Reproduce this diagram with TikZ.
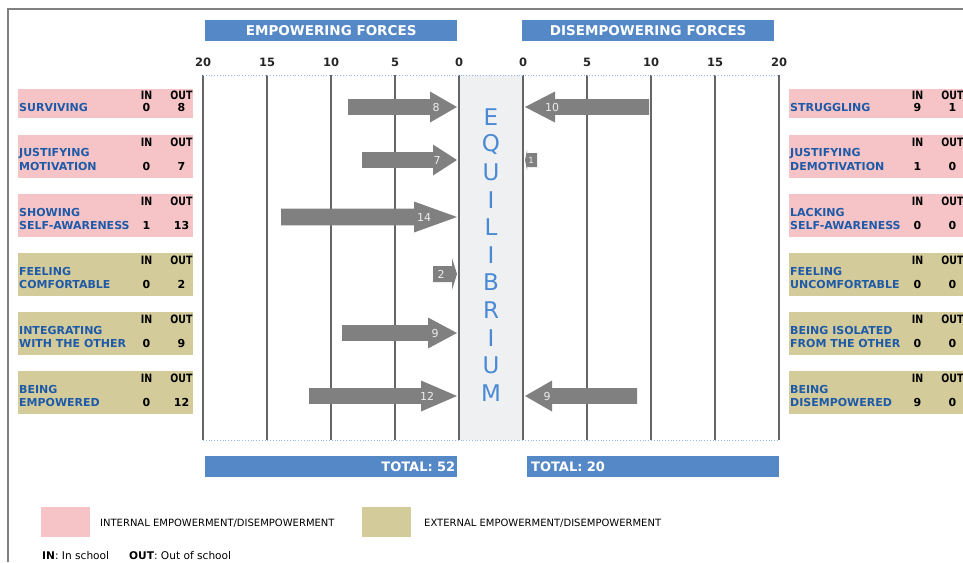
\documentclass[tikz,border=0pt]{standalone}
\usepackage{graphicx}
\usepackage{fontspec}
\setmainfont{DejaVu Sans}
\definecolor{hdrblue}{HTML}{5588C7}
\definecolor{pinkc}{HTML}{F6C4C6}
\definecolor{tanc}{HTML}{D4CB9A}
\definecolor{lblblue}{HTML}{1E5AA8}
\definecolor{eqblue}{HTML}{4A8AD4}
\definecolor{arrc}{HTML}{808080}
\definecolor{gridc}{HTML}{666666}
\definecolor{eqfill}{HTML}{EEF0F2}
\definecolor{dotc}{HTML}{8DB8E8}
\definecolor{framec}{HTML}{808080}
\newcommand\fsz[1]{\fontsize{#1pt}{#1pt}\selectfont}
\newcommand\narrow[1]{\scalebox{0.82}[1]{#1}}
\tikzset{
  hdrbar/.style={fill=hdrblue, draw=none, minimum width=252, minimum height=21, inner sep=0, text=white, font=\bfseries\fsz{13.5}},
  totbar/.style={fill=hdrblue, draw=none, minimum width=252, minimum height=21, inner sep=0, text=white, font=\bfseries\fsz{13}},
  tick/.style={inner sep=0, font=\bfseries\fsz{11.5}, text=black!85},
  gridln/.style={draw=gridc, line width=1.4},
  dotln/.style={draw=dotc, dotted, line width=0.8},
  arrshape/.style={fill=arrc},
  arrlbl/.style={inner sep=0, font=\fsz{11}, text=white!93!black},
  rowbox/.style={draw=none, inner sep=0, anchor=north west, minimum width=175},
  lbl/.style={inner sep=0, anchor=west, font=\bfseries\fsz{11}, text=lblblue},
  colhd/.style={inner sep=0, font=\bfseries\fsz{11.5}, text=black},
  num/.style={inner sep=0, font=\bfseries\fsz{11}, text=black},
  eqtxt/.style={inner sep=0, font=\fsz{23}, text=eqblue},
  legsq/.style={draw=none, inner sep=0, anchor=north west, minimum width=49, minimum height=30},
  legtxt/.style={inner sep=0, anchor=west, font=\fsz{10}, text=black},
  keytxt/.style={inner sep=0, anchor=west, font=\fsz{10.6}, text=black}
}
% #1 name, #2 box left x, #3 top, #4 fill, #5 label, #6 IN, #7 OUT
\newcommand\onebox[7]{
  \node[rowbox, fill=#4, minimum height=29] (#1) at (#2,#3) {};
  \node[lbl] (#1l) at ({#2+1},{#3+18}) {#5};
  \node[colhd] (#1hi) at ({#2+128.5},{#3+6.5}) {\narrow{IN}};
  \node[colhd] (#1ho) at ({#2+163.5},{#3+6.5}) {\narrow{OUT}};
  \node[num] (#1ni) at ({#2+128.5},{#3+18.5}) {#6};
  \node[num] (#1no) at ({#2+163.5},{#3+18.5}) {#7};
}
% #1 name, #2 box left x, #3 top, #4 fill, #5 line1, #6 line2, #7 IN, #8 OUT
\newcommand\twobox[8]{
  \node[rowbox, fill=#4, minimum height=43] (#1) at (#2,#3) {};
  \node[lbl] (#1l) at ({#2+1},{#3+18.5}) {#5};
  \node[lbl] (#1m) at ({#2+1},{#3+31.5}) {#6};
  \node[colhd] (#1hi) at ({#2+128.5},{#3+7}) {\narrow{IN}};
  \node[colhd] (#1ho) at ({#2+163.5},{#3+7}) {\narrow{OUT}};
  \node[num] (#1ni) at ({#2+128.5},{#3+31.5}) {#7};
  \node[num] (#1no) at ({#2+163.5},{#3+31.5}) {#8};
}
% #1 tail x, #2 head base x, #3 tip x, #4 y, #5 half body, #6 half head
\newcommand\forcearrow[6]{
  \fill[arrshape] (#1,{#4-#5}) -- (#2,{#4-#5}) -- (#2,{#4-#6}) -- (#3,#4) -- (#2,{#4+#6}) -- (#2,{#4+#5}) -- (#1,{#4+#5}) -- cycle;
}
\begin{document}
\begin{tikzpicture}[x=1pt,y=-1pt]
\useasboundingbox (0,0) rectangle (963,562);
% frame
\draw[draw=framec, line width=1.5] (8,562) -- (8,9) -- (963,9);
% header bars
\node[hdrbar, anchor=north west] (hemp) at (205,20) {EMPOWERING FORCES};
\node[hdrbar, anchor=north west] (hdis) at (522,20) {DISEMPOWERING FORCES};
% equilibrium band
\fill[eqfill] (459,75) rectangle (523,440);
% grid
\foreach \gx in {203,267,331,395,459,523,587,651,715,779}
  \draw[gridln] (\gx,75) -- (\gx,440);
\draw[dotln] (203,75) -- (779,75);
\draw[dotln] (203,440) -- (779,440);
% ticks
\node[tick] (tl20) at (203,62) {20};
\node[tick] (tl15) at (267,62) {15};
\node[tick] (tl10) at (331,62) {10};
\node[tick] (tl5) at (395,62) {5};
\node[tick] (tl0) at (459,62) {0};
\node[tick] (tr0) at (523,62) {0};
\node[tick] (tr5) at (587,62) {5};
\node[tick] (tr10) at (651,62) {10};
\node[tick] (tr15) at (715,62) {15};
\node[tick] (tr20) at (779,62) {20};
% EQUILIBRIUM
\foreach \l [count=\i from 0] in {E,Q,U,I,L,I,B,R,I,U,M}
  \node[eqtxt] (eq\i) at (491,{117+27.6*\i}) {\l};
% left arrows
\forcearrow{348}{430}{457}{107}{7.8}{15.5}
\node[arrlbl] (a1) at (436,107) {8};
\forcearrow{362}{433}{457}{160}{7.8}{15.5}
\node[arrlbl] (a2) at (437,160) {7};
\forcearrow{281}{414}{457}{217}{8.3}{15.5}
\node[arrlbl] (a3) at (424,217) {14};
\forcearrow{433}{452}{457}{274}{8}{16}
\node[arrlbl] (a4) at (441,274) {2};
\forcearrow{342}{428}{457}{333}{7.8}{15.5}
\node[arrlbl] (a5) at (435,333) {9};
\forcearrow{309}{421}{457}{396}{7.8}{15.5}
\node[arrlbl] (a6) at (427,396) {12};
% right arrows
\forcearrow{649}{555}{525}{107}{7.8}{15.5}
\node[arrlbl] (b1) at (552,107) {10};
\forcearrow{537}{527}{525}{160}{7}{10}
\node[arrlbl, font=\fsz{8.5}] (b2) at (531,160) {1};
\forcearrow{637}{552}{525}{396}{7.8}{15.5}
\node[arrlbl] (b6) at (547,396) {9};
% left boxes
\onebox{L1}{18}{89}{pinkc}{SURVIVING}{0}{8}
\twobox{L2}{18}{135}{pinkc}{JUSTIFYING}{MOTIVATION}{0}{7}
\twobox{L3}{18}{194}{pinkc}{SHOWING}{SELF-AWARENESS}{1}{13}
\twobox{L4}{18}{253}{tanc}{FEELING}{COMFORTABLE}{0}{2}
\twobox{L5}{18}{312}{tanc}{INTEGRATING}{WITH THE OTHER}{0}{9}
\twobox{L6}{18}{371}{tanc}{BEING}{EMPOWERED}{0}{12}
% right boxes
\onebox{R1}{789}{89}{pinkc}{STRUGGLING}{9}{1}
\twobox{R2}{789}{135}{pinkc}{JUSTIFYING}{DEMOTIVATION}{1}{0}
\twobox{R3}{789}{194}{pinkc}{LACKING}{SELF-AWARENESS}{0}{0}
\twobox{R4}{789}{253}{tanc}{FEELING}{UNCOMFORTABLE}{0}{0}
\twobox{R5}{789}{312}{tanc}{BEING ISOLATED}{FROM THE OTHER}{0}{0}
\twobox{R6}{789}{371}{tanc}{BEING}{DISEMPOWERED}{9}{0}
% totals
\node[totbar, anchor=north west, text width=248, align=right] (tot1) at (205,456) {TOTAL: 52};
\node[totbar, anchor=north west, text width=248, align=left] (tot2) at (527,456) {\hspace*{2pt}TOTAL: 20};
% legend
\node[legsq, fill=pinkc] (leg1) at (41,507) {};
\node[legtxt] (legt1) at (100,523) {INTERNAL EMPOWERMENT/DISEMPOWERMENT};
\node[legsq, fill=tanc] (leg2) at (362,507) {};
\node[legtxt] (legt2) at (424,523) {EXTERNAL EMPOWERMENT/DISEMPOWERMENT};
\node[keytxt] (key1) at (42,556) {\textbf{IN}: In school};
\node[keytxt] (key2) at (129,556) {\textbf{OUT}: Out of school};
\end{tikzpicture}
\end{document}
